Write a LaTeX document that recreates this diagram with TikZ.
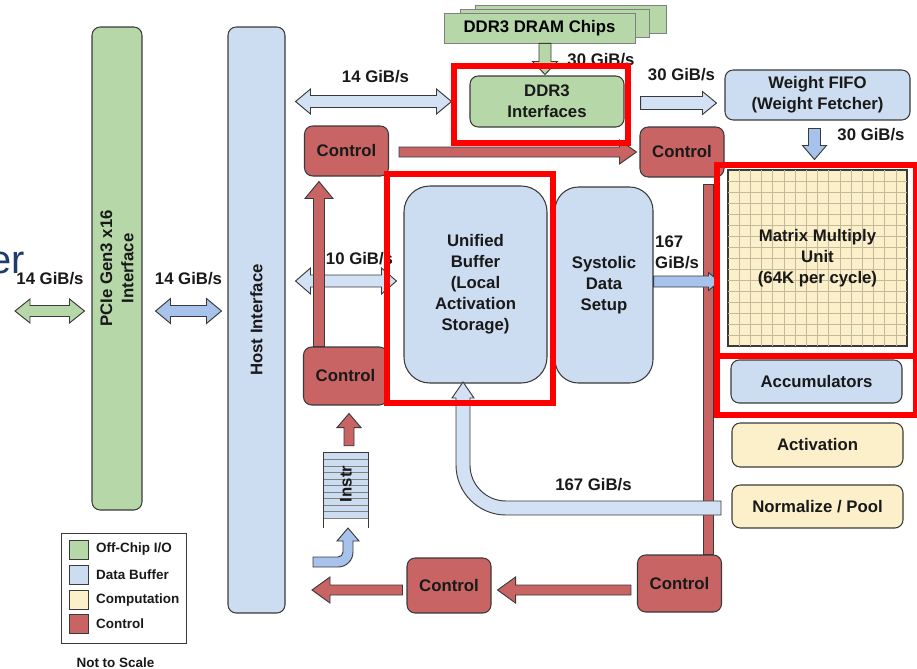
\documentclass[tikz,border=0pt]{standalone}
\usepackage{fontspec}
\setmainfont{Liberation Sans}
\usetikzlibrary{calc}

\definecolor{offchip}{HTML}{B6D7A8}
\definecolor{databuf}{HTML}{CCDCF1}
\definecolor{arrowlt}{HTML}{D2E1F4}
\definecolor{arrowmd}{HTML}{A7C3EC}
\definecolor{compute}{HTML}{FCF0CB}
\definecolor{ctrl}{HTML}{C96464}
\definecolor{edgec}{HTML}{3A3A3A}
\definecolor{hired}{HTML}{FF0000}
\definecolor{gridc}{HTML}{C4BA9A}
\definecolor{slidec}{HTML}{1F3A6E}

\newcommand{\pxu}{0.03cm}
\newcommand{\lblfont}{\bfseries\fontsize{14.3}{18}\selectfont}
\newcommand{\keyfont}{\bfseries\fontsize{11.5}{13}\selectfont}

\begin{document}
\begin{tikzpicture}[
  x=0.03cm, y=-0.03cm,
  box/.style={draw=edgec, line width=0.9pt, rounded corners=7pt, inner sep=0pt,
              align=center, font=\lblfont, text=black!90},
  ctrlbox/.style={box, fill=ctrl, minimum width=84*\pxu, minimum height=50*\pxu},
  lbl/.style={font=\lblfont, align=center, inner sep=0pt, text=black!90},
  keylbl/.style={font=\keyfont, anchor=west, inner sep=0pt, text=black!90},
  chip/.style={draw=gray, line width=0.6pt, fill=offchip},
  hilite/.style={draw=hired, line width=6*\pxu},
  arrowedge/.style={draw=edgec, line width=0.8pt},
  % shaft half width / head half width / head length, all in px
  blockarrow/.style args={#1/#2/#3}{arrowedge, to path={
    let \p1=(\tikztostart), \p2=(\tikztotarget),
        \n1={atan2(\y2-\y1,\x2-\x1)}, \n2={veclen(\x2-\x1,\y2-\y1)} in
    {[shift={(\p1)}, rotate=\n1]
      (0pt,{-#1*\pxu}) -- ({\n2-#3*\pxu},{-#1*\pxu}) -- ({\n2-#3*\pxu},{-#2*\pxu})
      -- ({\n2+0pt},0pt) -- ({\n2-#3*\pxu},{#2*\pxu}) -- ({\n2-#3*\pxu},{#1*\pxu})
      -- (0pt,{#1*\pxu}) -- cycle}}},
  blockdouble/.style args={#1/#2/#3}{arrowedge, to path={
    let \p1=(\tikztostart), \p2=(\tikztotarget),
        \n1={atan2(\y2-\y1,\x2-\x1)}, \n2={veclen(\x2-\x1,\y2-\y1)} in
    {[shift={(\p1)}, rotate=\n1]
      (0pt,0pt) -- ({#3*\pxu},{#2*\pxu}) -- ({#3*\pxu},{#1*\pxu})
      -- ({\n2-#3*\pxu},{#1*\pxu}) -- ({\n2-#3*\pxu},{#2*\pxu}) -- ({\n2+0pt},0pt)
      -- ({\n2-#3*\pxu},{-#2*\pxu}) -- ({\n2-#3*\pxu},{-#1*\pxu})
      -- ({#3*\pxu},{-#1*\pxu}) -- ({#3*\pxu},{-#2*\pxu}) -- cycle}}}
]
  \useasboundingbox (0,0) rectangle (917,669);

  %------------------------------------------------------------
  %  LEFT SIDE:  PCIe and host interface (rotated: north = left)
  %------------------------------------------------------------
  \node[font=\fontsize{34}{34}\selectfont, text=slidec, anchor=base west, inner sep=0pt]
    (slidetxt) at (-11,273) {er};
  \coordinate (ext) at (15,311);
  \node[box, fill=offchip, rotate=90, minimum width=483*\pxu, minimum height=50*\pxu]
    (pcie) at (117,268.5) {PCIe Gen3 x16\\Interface};
  \node[box, fill=databuf, rotate=90, minimum width=586*\pxu, minimum height=57*\pxu]
    (host) at (256.5,320) {Host Interface};

  %------------------------------------------------------------
  %  DDR3 AND WEIGHT FIFO
  %------------------------------------------------------------
  \draw[chip] (475,5) rectangle (666,33);
  \draw[chip] (460,9) rectangle (649,37);
  \node[chip, minimum width=191*\pxu, minimum height=30*\pxu, inner sep=0pt, font=\lblfont]
    (chips) at (539.5,28) {DDR3 DRAM Chips};
  \node[box, fill=offchip, minimum width=154*\pxu, minimum height=51*\pxu]
    (ddr) at (547,101.5) {DDR3\\Interfaces};
  \node[box, fill=databuf, minimum width=185*\pxu, minimum height=50*\pxu]
    (wfifo) at (817.5,95) {Weight FIFO\\(Weight Fetcher)};

  %------------------------------------------------------------
  %  CONTROL BOXES
  %------------------------------------------------------------
  \node[ctrlbox] (c1) at (346.5,151) {Control};
  \node[ctrlbox] (c2) at (682,152)   {Control};
  \node[ctrlbox, minimum height=58*\pxu] (c3) at (345.5,376) {Control};
  \node[ctrlbox, minimum height=55*\pxu] (c4) at (449,585.5) {Control};
  \node[ctrlbox, minimum height=57*\pxu] (c5) at (679.5,583.5) {Control};

  %------------------------------------------------------------
  %  BUFFER, SETUP, MATRIX UNIT AND PIPELINE
  %------------------------------------------------------------
  \node[box, fill=databuf, rounded corners=22pt, minimum width=143*\pxu, minimum height=197*\pxu]
    (ub) at (475.5,284.5) {Unified\\Buffer\\(Local\\Activation\\Storage)};
  \node[box, fill=databuf, rounded corners=20pt, minimum width=98*\pxu, minimum height=196*\pxu]
    (sds) at (604,285) {Systolic\\Data\\Setup};
  \node[draw=edgec, line width=0.9pt, fill=compute, inner sep=0pt,
        minimum width=179*\pxu, minimum height=176*\pxu] (mmu) at (817.5,258) {};
  \foreach \k in {1,...,15} {
    \draw[gridc, line width=0.6pt] (728+11.19*\k,170) -- (728+11.19*\k,346);
    \draw[gridc, line width=0.6pt] (728,170+11*\k) -- (907,170+11*\k);
  }
  \draw[edgec, line width=0.9pt] (mmu.north west) rectangle (mmu.south east);
  \node[lbl] (mmutxt) at (mmu) {Matrix Multiply\\Unit\\(64K per cycle)};
  \node[box, fill=databuf, minimum width=171*\pxu, minimum height=43*\pxu]
    (acc) at (816.5,381.5) {Accumulators};
  \node[box, fill=compute, minimum width=171*\pxu, minimum height=44*\pxu]
    (act) at (817.5,445) {Activation};
  \node[box, fill=compute, minimum width=171*\pxu, minimum height=43*\pxu]
    (norm) at (817.5,506.5) {Normalize / Pool};

  %------------------------------------------------------------
  %  INSTRUCTION QUEUE
  %------------------------------------------------------------
  \node[fill=databuf, inner sep=0pt, minimum width=44*\pxu, minimum height=65*\pxu]
    (instr) at (346,485.5) {};
  \foreach \k in {1,...,10}
    \draw[gray, line width=0.5pt] (324,453+6.5*\k) -- (368,453+6.5*\k);
  \draw[edgec, line width=0.8pt] ($(instr.south west)+(0,10)$) -- (instr.north west)
    -- (instr.north east) -- ($(instr.south east)+(0,10)$);
  \node[lbl, rotate=90] (instrtxt) at (346,484) {Instr};

  %------------------------------------------------------------
  %  CONTROL ARROWS
  %------------------------------------------------------------
  \draw[blockarrow=5/5/0, fill=ctrl] ($(c5.north)+(28.5,0)$) to ($(c2.south)+(26,7)$);
  \draw[blockarrow=5/12/17, fill=ctrl] ($(c1.east |- c2.west)+(10,0)$) to ($(c2.west)+(-3,0)$);
  \coordinate (hostr) at (312,590);
  \draw[blockarrow=5/13/18, fill=ctrl] ($(c4.west)+(-4,4.5)$) to (hostr);
  \draw[blockarrow=5/13/18, fill=ctrl] ($(c5.west)+(-6,6.5)$) to ($(c4.east)+(6,4.5)$);
  \draw[blockarrow=5/12/14, fill=ctrl] ($(instr.north)+(3,-7)$) to ($(c3.south)+(3.5,8)$);

  %------------------------------------------------------------
  %  DATA ARROWS
  %------------------------------------------------------------
  \coordinate (dramin) at ($(ddr.north)+(-2,-1)$);
  \draw[blockarrow=6/12.5/13, fill=offchip] (dramin |- chips.south) to (dramin);
  \draw[blockdouble=6/12.5/15, fill=arrowlt]
    ($(host.south |- ddr.west)+(10,0)$) to ($(ddr.west)+(-18,0)$);
  \draw[blockarrow=6.5/11.5/14, fill=arrowlt]
    ($(ddr.east)+(16,1.5)$) to ($(wfifo.west |- ddr.east)+(-8,1.5)$);
  \draw[blockarrow=6/12/14, fill=arrowmd]
    ($(wfifo.south)+(-3,8)$) to ($(mmu.north)+(-3,-10)$);
  \draw[blockdouble=5.5/12/15, fill=offchip] (ext) to ($(pcie.north |- ext)+(-7,0)$);
  \draw[blockdouble=5.5/12.5/15, fill=arrowmd]
    ($(pcie.south |- ext)+(13,0)$) to ($(host.north |- ext)+(-6,0)$);
  \draw[blockdouble=6/13/15, fill=arrowlt]
    ($(host.south)+(10,-39)$) to ($(ub.west)+(-7,-3.5)$);
  \draw[blockarrow=5.5/9/11, fill=arrowmd]
    ($(sds.east)+(0,-3.5)$) to ($(mmu.west |- sds.east)+(-8,-3.5)$);

  % control path up to the top control unit (lies over the 10 GiB/s arrow)
  \draw[blockarrow=5.5/14/17, fill=ctrl] ($(c3.north west)+(16,0)$) to ($(c1.south west)+(15,5)$);

  % return path from the pipeline into the buffer
  \draw[arrowedge, fill=arrowlt]
    (721,515) -- (506,515) arc[start angle=270, end angle=180, radius=50*\pxu]
    -- (456,398) -- (452,398) -- (463,382) -- (474,398) -- (470,398)
    -- (470,465) arc[start angle=180, end angle=270, radius=36*\pxu]
    -- (721,501) -- cycle;
  % instruction feed
  \draw[arrowedge, fill=arrowmd]
    (313,557) -- (338,557) arc[start angle=270, end angle=360, radius=5*\pxu]
    -- (343,541) -- (337,541) -- (348,528) -- (359,541) -- (353,541)
    -- (353,552) arc[start angle=0, end angle=-90, radius=15*\pxu]
    -- (313,567) -- cycle;

  %------------------------------------------------------------
  %  BANDWIDTH LABELS
  %------------------------------------------------------------
  \node[lbl] (bw1) at (50,279)     {14 GiB/s};
  \node[lbl] (bw2) at (188.5,279)  {14 GiB/s};
  \node[lbl] (bw3) at (375.5,77)   {14 GiB/s};
  \node[lbl] (bw4) at (359.5,259)  {10 GiB/s};
  \node[lbl] (bw5) at (601,60)     {30 GiB/s};
  \node[lbl] (bw6) at (681.5,75)   {30 GiB/s};
  \node[lbl] (bw7) at (871,135)    {30 GiB/s};
  \node[lbl, align=left, anchor=west] (bw8) at (655,252) {167\\GiB/s};
  \node[lbl] (bw9) at (593.5,485)  {167 GiB/s};

  %------------------------------------------------------------
  %  LEGEND
  %------------------------------------------------------------
  \node[draw=edgec, line width=0.8pt, inner sep=0pt, minimum width=125*\pxu,
        minimum height=110*\pxu] (legend) at (123.5,588) {};
  \foreach \col/\txt/\yy [count=\k] in {offchip/{Off-Chip I/O}/549.5, databuf/{Data Buffer}/575,
                                        compute/{Computation}/600, ctrl/{Control}/624} {
    \node[draw=edgec, line width=0.8pt, fill=\col, minimum width=19*\pxu,
          minimum height=19*\pxu, inner sep=0pt] (key\k) at (78.5,\yy) {};
    \node[keylbl] (keytxt\k) at (96,\yy) {\txt};
  }
  \node[font=\keyfont, inner sep=0pt, text=black!90] (scale) at (115.5,663) {Not to Scale};

  %------------------------------------------------------------
  %  HIGHLIGHTS
  %------------------------------------------------------------
  \draw[hilite] (454,65.5) rectangle (628,142.5);
  \draw[hilite] (386.5,173.5) rectangle (552.5,402.5);
  \draw[hilite] (717,164.5) rectangle (916,355.5);
  \draw[hilite] (717,355.5) rectangle (916,415);
\end{tikzpicture}
\end{document}
